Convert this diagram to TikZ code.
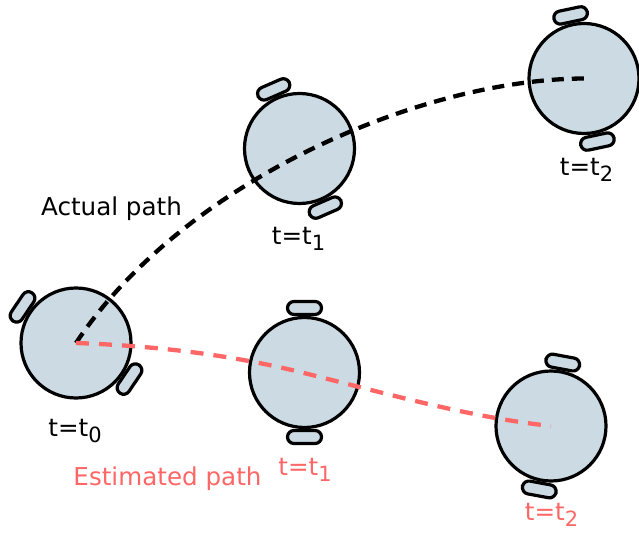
\documentclass[tikz,border=0pt]{standalone}
\usepackage{fontspec}
\setmainfont{DejaVu Sans}
\definecolor{robotfill}{RGB}{204,219,227}
\definecolor{estred}{RGB}{255,102,102}
\newcommand{\tlabel}[1]{t=t\raisebox{-6pt}{\fontsize{21}{24}\selectfont #1}}
\tikzset{
  x=1pt, y=1pt,
  outline/.style={draw=black, line width=3.2pt, fill=robotfill},
  body/.style={outline, circle, inner sep=0pt, minimum size=110pt},
  wheelshape/.style={outline, rounded corners=6.5pt},
  robot/.pic={
    \path[wheelshape] (-17,58) rectangle (17,71);
    \path[wheelshape] (-17,-71) rectangle (17,-58);
    \node[body] (-body) at (0,0) {};
  },
  actualpath/.style={draw=black, line width=4.3pt, dash pattern=on 12pt off 8pt},
  estpath/.style={draw=estred, line width=4.3pt, dash pattern=on 13pt off 10pt},
  lbl/.style={anchor=base, inner sep=0pt, font=\fontsize{24.6}{30}\selectfont},
  estlbl/.style={lbl, text=estred}
}
\begin{document}
\begin{tikzpicture}
\useasboundingbox (0,0) rectangle (639,533);
\pic[rotate=56] (r0) at (76,190) {robot};
\pic[rotate=23.6] (a1) at (299.5,384.5) {robot};
\pic[rotate=12] (a2) at (584,454.5) {robot};
\pic[rotate=0] (e1) at (304.5,160.5) {robot};
\pic[rotate=-10.5] (e2) at (551,107) {robot};
\coordinate (emid) at (304,160);
\draw[actualpath] (r0-body.center) .. controls (182,350) and (420,455) .. ([xshift=3pt]a2-body.center);
\draw[estpath] (r0-body.center) .. controls (152,187.3) and (228,179) .. (emid)
  .. controls (386,139.6) and (469,115.8) .. (e2-body.center);
\node[lbl] (lactual) at (111.5,317) {Actual path};
\node[estlbl] (lest) at (167.5,48) {Estimated path};
\node[lbl] (l0) at (75,97) {\tlabel{0}};
\node[lbl] (la1) at (298.5,288) {\tlabel{1}};
\node[lbl] (la2) at (586.5,357) {\tlabel{2}};
\node[estlbl] (le1) at (305,58) {\tlabel{1}};
\node[estlbl] (le2) at (551.5,13) {\tlabel{2}};
\end{tikzpicture}
\end{document}
